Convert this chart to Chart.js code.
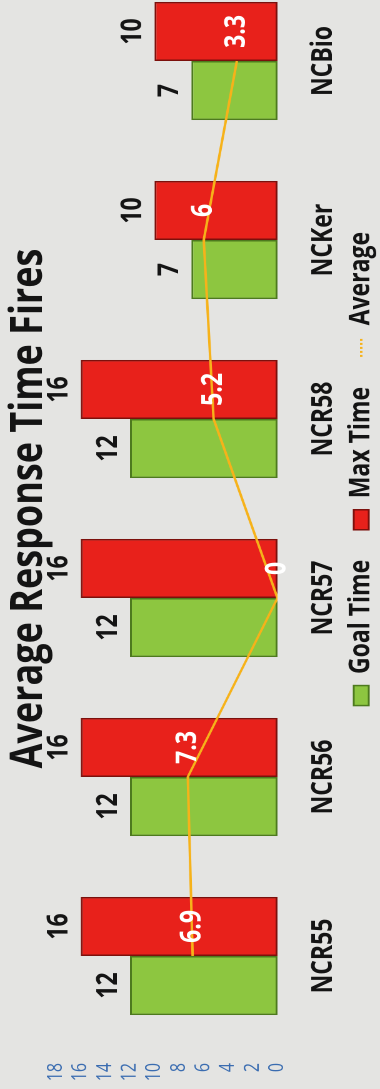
<!DOCTYPE html>
<html lang="en">
<head>
<meta charset="UTF-8" />
<title>Average Response Time Fires</title>
<script src="https://cdn.jsdelivr.net/npm/chart.js"></script>
<style>
  html, body { margin: 0; padding: 0; }
  body {
    width: 380px;
    height: 1089px;
    overflow: hidden;
    position: relative;
    background: #e4e4e2;
  }
  /* chart is laid out landscape, then turned so it reads bottom-to-top */
  .turned {
    position: absolute;
    left: 0;
    top: 0;
    width: 1125px;
    height: 333px;
    transform-origin: 0 0;
    transform: translate(0, 1089px) rotate(-90deg) scale(1, 1.25);
  }
</style>
</head>
<body>
<div class="turned"><canvas id="fires"></canvas></div>

<script>
const categories = ["NCR55", "NCR56", "NCR57", "NCR58", "NCKer", "NCBio"];
const goalTime = [12, 12, 12, 12, 7, 7];
const maxTime = [16, 16, 16, 16, 10, 10];
const average = [6.9, 7.3, 0, 5.2, 6, 3.3];
const yTicks = [0, 2, 4, 6, 8, 10, 12, 14, 16, 18];

const FONT = '"Open Sans", "DejaVu Sans", sans-serif';

// numbers printed on the bars and along the average line
const valueLabels = {
  id: "valueLabels",
  afterDatasetsDraw(chart) {
    const ctx = chart.ctx;
    ctx.save();
    ctx.textAlign = "center";
    ctx.textBaseline = "middle";
    ctx.font = "bold 23px " + FONT;
    ctx.fillStyle = "#141414";
    [0, 1].forEach((di) => {
      const values = chart.data.datasets[di].data;
      chart.getDatasetMeta(di).data.forEach((bar, i) => {
        ctx.fillText(values[i], bar.x, bar.y - 17);
      });
    });
    const maxBars = chart.getDatasetMeta(1).data;
    ctx.fillStyle = "#ffffff";
    chart.getDatasetMeta(2).data.forEach((pt, i) => {
      ctx.fillText(average[i], maxBars[i].x, pt.y);
    });
    ctx.restore();
  },
};

// legend in the original sits right of centre and close under the labels
const legendNudge = {
  id: "legendNudge",
  afterLayout(chart) {
    const lg = chart.legend;
    lg.left += 58;
    lg.right += 58;
    lg.top -= 22.5;
    lg.bottom -= 22.5;
  },
};

const markers = ["rect", "rect", "line"];

new Chart(document.getElementById("fires"), {
  type: "bar",
  data: {
    labels: categories,
    datasets: [
      {
        label: "Goal Time",
        data: goalTime,
        backgroundColor: "#8dc640",
        borderColor: "#4d7a1e",
        borderWidth: 1.5,
        borderSkipped: false,
        order: 1,
      },
      {
        label: "Max Time",
        data: maxTime,
        backgroundColor: "#e8211b",
        borderColor: "#7c100c",
        borderWidth: 1.5,
        borderSkipped: false,
        order: 1,
      },
      {
        type: "line",
        label: "Average",
        data: average,
        borderColor: "#f6b21a",
        backgroundColor: "#f6b21a",
        borderWidth: 2,
        pointRadius: 0,
        tension: 0,
        fill: false,
        order: 0,
      },
    ],
  },
  options: {
    responsive: true,
    maintainAspectRatio: false,
    animation: false,
    devicePixelRatio: 2,
    categoryPercentage: 0.66,
    barPercentage: 1,
    layout: { padding: { left: 7, right: 7.5, top: 0, bottom: 0 } },
    plugins: {
      title: {
        display: true,
        text: "Average Response Time Fires",
        fullSize: false,
        color: "#141414",
        font: { family: FONT, size: 36, weight: "bold", lineHeight: 1 },
        padding: { top: 5, bottom: 4 },
      },
      legend: {
        position: "bottom",
        labels: {
          usePointStyle: true,
          pointStyleWidth: 20,
          boxHeight: 12,
          padding: 30,
          color: "#141414",
          font: { family: FONT, size: 23, weight: "bold" },
          sort: (a, b) => a.datasetIndex - b.datasetIndex,
          generateLabels(chart) {
            const items = Chart.defaults.plugins.legend.labels.generateLabels(chart);
            items.forEach((it) => {
              it.pointStyle = markers[it.datasetIndex];
              if (it.pointStyle === "line") {
                it.lineDash = [2, 2];
              }
            });
            return items;
          },
        },
      },
      tooltip: { enabled: false },
    },
    scales: {
      x: {
        grid: { display: false, drawTicks: false },
        border: { display: false },
        ticks: {
          color: "#141414",
          font: { family: FONT, size: 23, weight: "bold" },
          padding: 23,
          maxRotation: 0,
          autoSkip: false,
        },
        afterFit(scale) {
          scale.height = 48;
        },
      },
      y: {
        min: 0,
        max: 18,
        grid: { display: false, drawTicks: false },
        border: { display: false },
        afterBuildTicks(scale) {
          scale.ticks = yTicks.map((v) => ({ value: v }));
        },
        afterFit(scale) {
          scale.width = 36.5;
        },
        ticks: {
          color: "#3a6cb0",
          font: { family: FONT, size: 16 },
          padding: 17.5,
          autoSkip: false,
        },
      },
    },
  },
  plugins: [valueLabels, legendNudge],
});
</script>
</body>
</html>
